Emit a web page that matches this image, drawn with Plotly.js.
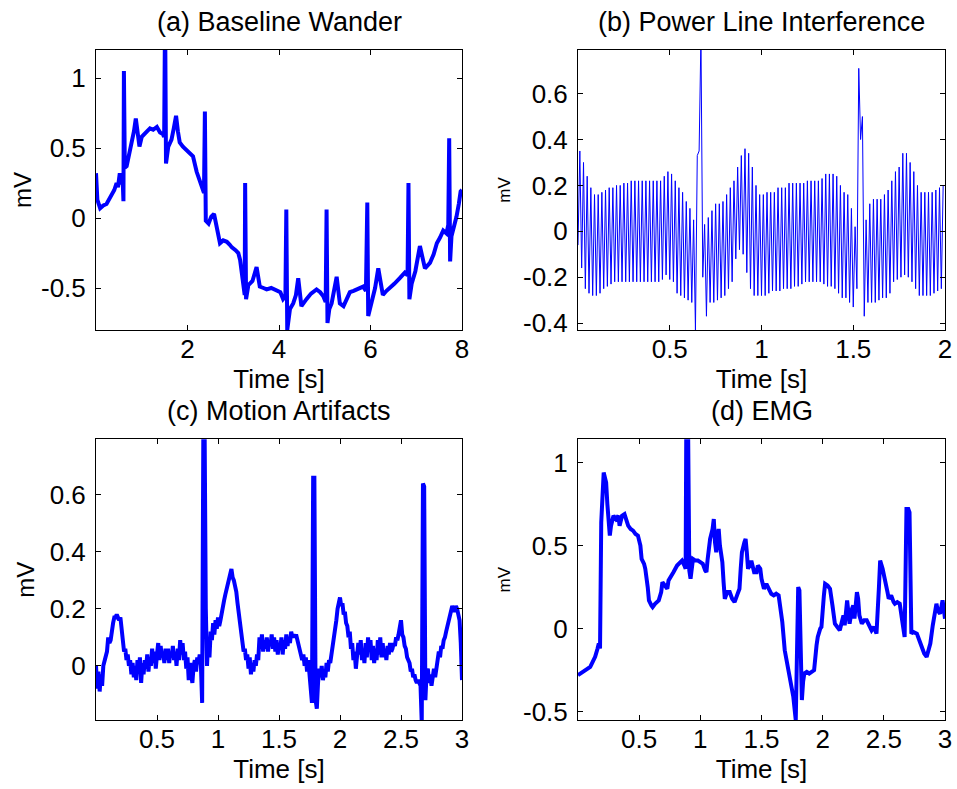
<!DOCTYPE html>
<html>
<head>
<meta charset="utf-8">
<script src="https://cdn.plot.ly/plotly-3.0.1.min.js"></script>
<style>html,body{margin:0;padding:0;background:#fff;}#chart{width:957px;height:789px;}</style>
</head>
<body>
<div id="chart"></div>
<script>
// ---------- (a) Baseline Wander : time [s] and amplitude [mV] ----------
const aTime = [0.00,0.03,0.09,0.16,0.23,0.30,0.34,0.40,0.45,0.48,0.52,0.55,0.58,0.60,0.61,0.63,0.67,0.72,0.78,0.83,
  0.87,0.92,0.95,1.00,1.05,1.12,1.18,1.25,1.33,1.40,1.46,1.49,1.51,1.53,1.58,1.65,1.70,1.75,1.79,1.83,
  1.90,1.97,2.05,2.12,2.20,2.27,2.33,2.36,2.38,2.40,2.46,2.52,2.58,2.64,2.71,2.78,2.86,2.92,2.97,3.05,
  3.11,3.15,3.18,3.22,3.25,3.26,3.28,3.33,3.42,3.51,3.58,3.66,3.73,3.83,3.95,4.03,4.09,4.14,4.16,4.18,
  4.24,4.31,4.37,4.42,4.49,4.55,4.60,4.70,4.82,4.90,4.97,5.02,5.04,5.06,5.10,5.15,5.26,5.33,5.41,5.48,
  5.55,5.63,5.70,5.77,5.84,5.90,5.93,5.95,6.03,6.10,6.17,6.27,6.35,6.43,6.52,6.64,6.75,6.81,6.83,6.85,
  6.90,6.98,7.08,7.19,7.30,7.38,7.45,7.52,7.59,7.66,7.70,7.72,7.74,7.77,7.82,7.88,7.93,7.97,8.00];
const aMv = [0.32,0.13,0.07,0.09,0.10,0.14,0.16,0.20,0.25,0.22,0.32,0.24,0.30,0.12,1.05,0.36,0.37,0.45,0.52,0.62,
  0.71,0.55,0.51,0.58,0.60,0.62,0.64,0.63,0.65,0.61,0.60,0.58,1.50,0.39,0.51,0.56,0.64,0.73,0.62,0.54,
  0.51,0.49,0.46,0.44,0.33,0.26,0.20,0.18,0.76,-0.02,-0.04,0.01,0.03,-0.06,-0.18,-0.16,-0.17,-0.19,-0.21,-0.23,
  -0.25,-0.30,-0.39,-0.45,-0.55,0.25,-0.58,-0.48,-0.45,-0.35,-0.49,-0.50,-0.51,-0.50,-0.52,-0.53,-0.58,-0.56,0.06,-0.80,
  -0.65,-0.61,-0.55,-0.43,-0.63,-0.60,-0.58,-0.54,-0.51,-0.53,-0.56,-0.60,0.06,-0.75,-0.65,-0.61,-0.42,-0.61,-0.63,-0.58,
  -0.53,-0.52,-0.51,-0.50,-0.49,-0.52,0.11,-0.70,-0.58,-0.50,-0.36,-0.55,-0.52,-0.50,-0.47,-0.43,-0.39,-0.41,0.25,-0.58,
  -0.47,-0.38,-0.20,-0.36,-0.32,-0.26,-0.18,-0.14,-0.09,-0.11,-0.05,0.57,-0.31,-0.13,-0.07,0.01,0.10,0.19,0.20];

// ---------- (b) Power Line Interference : per 50 Hz cycle, low then high value [mV] ----------
const plCycle = 0.02; // seconds per mains cycle
const plLow = [-0.06,-0.16,-0.25,-0.27,-0.28,-0.28,-0.27,-0.25,-0.24,-0.23,
  -0.22,-0.22,-0.22,-0.22,-0.22,-0.22,-0.22,-0.22,-0.22,-0.22,
  -0.22,-0.22,-0.22,-0.21,-0.19,-0.21,-0.22,-0.27,-0.28,-0.29,
  -0.30,-0.31,-0.43,0.35,-0.20,-0.37,-0.31,-0.31,-0.30,-0.29,
  -0.28,-0.25,-0.22,-0.12,-0.08,-0.10,-0.18,-0.25,-0.28,-0.28,
  -0.28,-0.28,-0.27,-0.26,-0.26,-0.26,-0.25,-0.25,-0.25,-0.24,
  -0.24,-0.23,-0.22,-0.22,-0.22,-0.22,-0.22,-0.23,-0.24,-0.24,
  -0.25,-0.27,-0.29,-0.29,-0.31,-0.33,-0.25,0.40,-0.37,-0.31,
  -0.31,-0.31,-0.30,-0.29,-0.29,-0.27,-0.22,-0.21,-0.20,-0.19,
  -0.20,-0.22,-0.25,-0.28,-0.28,-0.28,-0.28,-0.27,-0.26,-0.25];
const plHigh = [0.35,0.30,0.24,0.19,0.16,0.16,0.17,0.18,0.19,0.19,
  0.20,0.20,0.21,0.21,0.22,0.22,0.22,0.22,0.22,0.22,
  0.22,0.22,0.22,0.24,0.26,0.25,0.22,0.19,0.17,0.13,
  0.10,0.05,0.33,0.85,0.03,0.06,0.09,0.12,0.12,0.13,
  0.16,0.19,0.22,0.28,0.33,0.36,0.34,0.28,0.20,0.16,
  0.16,0.17,0.17,0.17,0.19,0.19,0.19,0.21,0.21,0.21,
  0.21,0.21,0.22,0.22,0.22,0.22,0.23,0.25,0.25,0.25,
  0.24,0.20,0.17,0.16,0.10,0.02,0.71,0.50,0.05,0.12,
  0.14,0.14,0.14,0.16,0.18,0.22,0.26,0.28,0.34,0.34,
  0.30,0.26,0.20,0.17,0.17,0.17,0.17,0.18,0.19,0.20];

// ---------- (c) Motion Artifacts : sampled every 0.01 s [mV] ----------
const maStep = 0.01;
const maMv = [0.00,-0.08,-0.02,-0.09,-0.03,-0.07,0.00,0.02,0.04,0.05,
  0.10,0.08,0.09,0.14,0.15,0.17,0.17,0.18,0.17,0.16,
  0.17,0.13,0.10,0.05,0.06,0.02,0.04,0.00,0.02,-0.03,
  0.01,-0.04,0.00,-0.05,0.02,-0.02,0.03,-0.06,0.01,-0.03,
  0.02,-0.01,0.04,-0.02,0.03,0.00,0.06,0.01,0.05,-0.01,
  0.04,0.08,0.02,0.07,0.03,0.05,0.01,0.06,0.02,0.06,
  0.01,0.05,0.03,0.07,0.02,0.05,0.00,0.06,0.02,0.09,
  0.04,0.08,0.02,0.05,-0.01,0.03,-0.05,0.01,-0.03,-0.06,
  0.00,0.02,-0.02,0.03,0.01,0.04,0.00,-0.13,0.85,0.85,
  0.20,0.00,0.10,0.03,0.12,0.09,0.15,0.11,0.16,0.13,
  0.17,0.14,0.16,0.19,0.21,0.23,0.25,0.27,0.29,0.31,
  0.33,0.34,0.31,0.30,0.28,0.26,0.22,0.19,0.16,0.12,
  0.08,0.05,0.06,0.02,0.04,-0.01,0.03,-0.03,0.01,-0.02,
  0.02,0.00,0.04,0.02,0.10,0.06,0.11,0.05,0.09,0.06,
  0.10,0.05,0.09,0.07,0.11,0.06,0.10,0.05,0.09,0.04,
  0.08,0.06,0.10,0.04,0.09,0.06,0.11,0.07,0.10,0.08,
  0.12,0.10,0.11,0.10,0.11,0.09,0.08,0.05,0.04,0.02,
  0.04,0.00,0.03,-0.02,0.02,-0.03,-0.06,-0.13,0.66,0.66,
  -0.12,-0.15,-0.06,-0.01,-0.04,0.00,-0.05,-0.02,-0.04,0.01,
  -0.02,0.02,0.01,0.04,0.06,0.08,0.12,0.16,0.20,0.22,
  0.24,0.21,0.22,0.18,0.19,0.15,0.14,0.10,0.12,0.06,
  0.08,0.02,0.05,-0.01,0.03,0.08,0.04,0.09,0.02,0.06,
  0.01,0.08,0.03,0.10,0.05,0.09,0.02,0.07,0.01,0.06,
  0.02,0.09,0.04,0.10,0.03,0.08,0.03,0.06,0.02,0.07,
  0.04,0.08,0.05,0.06,0.08,0.07,0.10,0.09,0.11,0.14,
  0.16,0.11,0.10,0.07,0.06,0.03,0.02,0.01,-0.02,-0.01,
  -0.04,-0.03,-0.05,-0.06,-0.05,-0.06,-0.07,-0.20,0.64,0.63,
  -0.12,-0.02,-0.01,-0.06,-0.03,-0.07,-0.04,-0.01,-0.04,0.01,
  0.02,0.05,0.03,0.07,0.06,0.09,0.10,0.12,0.14,0.16,
  0.18,0.19,0.21,0.20,0.19,0.21,0.20,0.18,0.16,0.08,
  -0.05];

// ---------- (d) EMG : time [s] and amplitude [mV] ----------
const emgTime = [0.00,0.02,0.04,0.06,0.08,0.10,0.12,0.14,0.16,0.17,0.18,0.19,0.21,0.23,0.24,0.26,0.27,0.29,0.31,0.33,
  0.34,0.36,0.38,0.40,0.41,0.43,0.45,0.47,0.49,0.51,0.52,0.54,0.55,0.57,0.58,0.60,0.61,0.63,0.66,0.68,
  0.69,0.71,0.73,0.74,0.76,0.78,0.81,0.83,0.85,0.87,0.88,0.885,0.90,0.91,0.92,0.93,0.94,0.96,0.98,1.00,
  1.02,1.04,1.05,1.06,1.08,1.10,1.11,1.12,1.13,1.14,1.15,1.16,1.18,1.19,1.20,1.22,1.24,1.26,1.28,1.30,
  1.32,1.33,1.34,1.36,1.37,1.38,1.39,1.41,1.42,1.44,1.46,1.47,1.49,1.50,1.52,1.54,1.56,1.58,1.60,1.62,
  1.64,1.66,1.67,1.69,1.71,1.73,1.75,1.76,1.78,1.79,1.80,1.81,1.82,1.83,1.84,1.85,1.87,1.89,1.91,1.93,
  1.95,1.96,1.98,1.99,2.01,2.02,2.04,2.06,2.08,2.10,2.12,2.14,2.16,2.17,2.18,2.20,2.21,2.22,2.24,2.25,
  2.26,2.28,2.29,2.30,2.32,2.34,2.36,2.38,2.40,2.42,2.44,2.46,2.47,2.49,2.51,2.53,2.54,2.56,2.58,2.59,
  2.61,2.63,2.65,2.67,2.685,2.70,2.71,2.725,2.74,2.77,2.79,2.81,2.83,2.85,2.86,2.88,2.90,2.92,2.93,2.94,
  2.96,2.97,2.98,2.99,3.00];
const emgMv = [-0.28,-0.27,-0.26,-0.25,-0.24,-0.23,-0.20,-0.17,-0.12,-0.09,-0.12,0.64,0.94,0.88,0.75,0.56,0.62,0.68,0.66,0.68,
  0.62,0.68,0.69,0.65,0.62,0.60,0.59,0.57,0.56,0.50,0.42,0.39,0.36,0.25,0.17,0.14,0.13,0.15,0.17,0.22,
  0.28,0.26,0.24,0.29,0.32,0.34,0.38,0.40,0.41,0.38,0.36,1.20,1.20,0.35,0.30,0.36,0.42,0.41,0.41,0.40,
  0.39,0.35,0.34,0.42,0.54,0.60,0.66,0.52,0.46,0.56,0.60,0.50,0.40,0.28,0.18,0.22,0.22,0.18,0.16,0.20,
  0.24,0.36,0.46,0.52,0.54,0.46,0.36,0.40,0.40,0.34,0.34,0.38,0.36,0.30,0.24,0.27,0.24,0.21,0.20,0.21,
  0.20,0.08,0.04,-0.13,-0.22,-0.31,-0.38,-0.41,-0.55,-0.10,0.25,0.23,-0.10,-0.43,-0.32,-0.27,-0.26,-0.27,-0.26,-0.25,
  -0.10,-0.05,0.00,0.01,0.20,0.27,0.26,0.24,0.14,0.03,0.01,-0.01,0.05,0.08,0.02,0.17,0.10,0.03,0.12,0.14,
  0.06,0.22,0.18,0.08,0.03,0.05,0.05,0.02,-0.01,0.01,-0.03,0.25,0.41,0.36,0.30,0.22,0.18,0.20,0.16,0.15,
  0.16,0.15,0.05,-0.05,0.72,0.72,0.70,-0.03,-0.02,-0.03,-0.07,-0.11,-0.15,-0.17,-0.14,-0.09,0.02,0.13,0.15,0.11,
  0.09,0.13,0.17,0.12,0.06];

// ---------- ticks ----------
const aXTicks = [2,4,6,8];
const aYTicks = [-0.5,0,0.5,1];
const aYLabels = ['-0.5','0','0.5','1'];
const bXTicks = [0.5,1,1.5,2];
const bYTicks = [-0.4,-0.2,0,0.2,0.4,0.6];
const bYLabels = ['-0.4','-0.2','0','0.2','0.4','0.6'];
const cXTicks = [0.5,1,1.5,2,2.5,3];
const cYTicks = [0,0.2,0.4,0.6];
const cYLabels = ['0','0.2','0.4','0.6'];
const dXTicks = [0.5,1,1.5,2,2.5,3];
const dYTicks = [-0.5,0,0.5,1];
const dYLabels = ['-0.5','0','0.5','1'];
const titles = ['(a) Baseline Wander','(b) Power Line Interference','(c) Motion Artifacts','(d) EMG'];

// ---------- build series ----------
const plTime = [], plMv = [];
plLow.forEach((lo, i) => {
  plTime.push(i * plCycle); plMv.push(lo);
  plTime.push(i * plCycle + plCycle / 2); plMv.push(plHigh[i]);
});
const maTime = maMv.map((_, i) => i * maStep);

const W = 957, H = 789;
const FONT = 'Liberation Sans, Arial, Helvetica, sans-serif';
const blue = '#0000ff';

const traces = [
  {x: aTime, y: aMv, xaxis: 'x', yaxis: 'y', type: 'scatter', mode: 'lines', line: {color: blue, width: 4}},
  {x: plTime, y: plMv, xaxis: 'x2', yaxis: 'y2', type: 'scatter', mode: 'lines', line: {color: blue, width: 1}},
  {x: maTime, y: maMv, xaxis: 'x3', yaxis: 'y3', type: 'scatter', mode: 'lines', line: {color: blue, width: 4}},
  {x: emgTime, y: emgMv, xaxis: 'x4', yaxis: 'y4', type: 'scatter', mode: 'lines', line: {color: blue, width: 4}}
];

function xAxis(dom, range, tv, anchor) {
  return {
    domain: dom, range: range, anchor: anchor, tickvals: tv, ticktext: tv.map(String),
    ticks: 'inside', ticklen: 5, tickwidth: 1, tickcolor: '#000', mirror: 'ticks',
    showline: true, linecolor: '#000', linewidth: 1, showgrid: false, zeroline: false,
    tickfont: {family: FONT, size: 26, color: '#000'}, ticklabelstandoff: -4,
    title: {text: 'Time [s]', font: {family: FONT, size: 26, color: '#000'}, standoff: 1}
  };
}
function yAxis(dom, range, tv, tt, anchor, tsize, standoff) {
  return {
    domain: dom, range: range, anchor: anchor, tickvals: tv, ticktext: tt,
    ticks: 'inside', ticklen: 5, tickwidth: 1, tickcolor: '#000', mirror: 'ticks',
    showline: true, linecolor: '#000', linewidth: 1, showgrid: false, zeroline: false,
    tickfont: {family: FONT, size: 26, color: '#000'}, ticklabelstandoff: 4,
    title: {text: 'mV', font: {family: FONT, size: tsize, color: '#000'}, standoff: standoff}
  };
}

const colL = [96 / W, 462 / W], colR = [578 / W, 945 / W];
const rowT = [1 - 330 / H, 1 - 50 / H], rowB = [1 - 720 / H, 1 - 439.3 / H];

const layout = {
  width: W, height: H, margin: {l: 0, r: 0, t: 0, b: 0},
  paper_bgcolor: '#fff', plot_bgcolor: '#fff', showlegend: false,
  font: {family: FONT, color: '#000'},
  xaxis: xAxis(colL, [0, 8], aXTicks, 'y'),
  yaxis: yAxis(rowT, [-0.8, 1.2], aYTicks, aYLabels, 'x', 24, 2),
  xaxis2: xAxis(colR, [0, 2], bXTicks, 'y2'),
  yaxis2: yAxis(rowT, [-0.43, 0.79], bYTicks, bYLabels, 'x2', 17, 8),
  xaxis3: xAxis(colL, [0, 3], cXTicks, 'y3'),
  yaxis3: yAxis(rowB, [-0.19, 0.795], cYTicks, cYLabels, 'x3', 24, 8),
  xaxis4: xAxis(colR, [0, 3], dXTicks, 'y4'),
  yaxis4: yAxis(rowB, [-0.55, 1.14], dYTicks, dYLabels, 'x4', 17, 8),
  annotations: [
    {text: titles[0], x: (colL[0] + colL[1]) / 2, y: 1 - 22 / H},
    {text: titles[1], x: (colR[0] + colR[1]) / 2, y: 1 - 22 / H},
    {text: titles[2], x: (colL[0] + colL[1]) / 2, y: 1 - 411 / H},
    {text: titles[3], x: (colR[0] + colR[1]) / 2, y: 1 - 411 / H}
  ].map(a => Object.assign(a, {xref: 'paper', yref: 'paper', xanchor: 'center', yanchor: 'middle',
    showarrow: false, font: {family: FONT, size: 27, color: '#000'}}))
};

Plotly.newPlot('chart', traces, layout, {staticPlot: true, displayModeBar: false});
</script>
</body>
</html>
